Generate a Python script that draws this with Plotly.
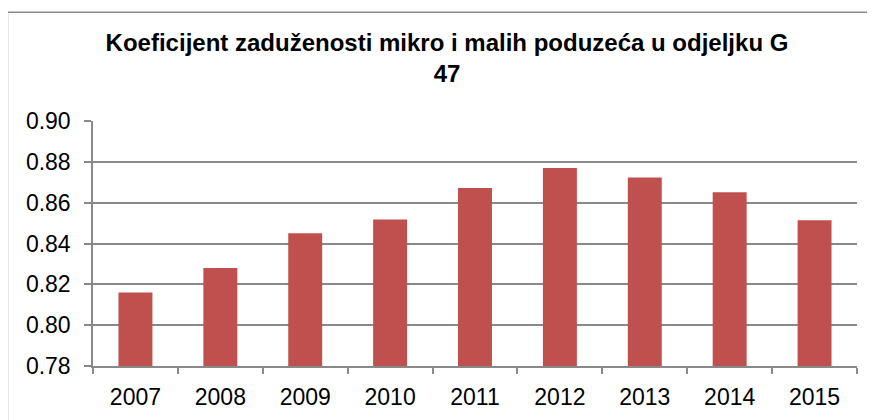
import plotly.graph_objects as go

years = ["2007", "2008", "2009", "2010", "2011", "2012", "2013", "2014", "2015"]
coef = [0.816, 0.828, 0.845, 0.8517, 0.8672, 0.877, 0.8723, 0.8651, 0.8514]
y_ticks = [0.78, 0.80, 0.82, 0.84, 0.86, 0.88, 0.90]

TITLE = "Koeficijent zaduženosti mikro i malih poduzeća u odjeljku G<br>47"
BAR = "#C0504D"
GREY = "#898989"
FONT = "Liberation Sans, Arial, sans-serif"

# the page body adds an 8px offset, margins below account for it
fig = go.Figure(
    go.Bar(
        x=years,
        y=coef,
        marker=dict(color=BAR, line=dict(width=0)),
        hovertemplate="%{x}: %{y:.3f}<extra></extra>",
    )
)

fig.update_layout(
    width=875,
    height=420,
    paper_bgcolor="white",
    plot_bgcolor="white",
    font=dict(family=FONT, color="black", size=23),
    margin=dict(l=85, r=26, t=113, b=62),
    bargap=0.6,
    showlegend=False,
    title=dict(
        text=TITLE,
        font=dict(family=FONT, size=24, color="black", weight="bold"),
        x=439 / 875, xanchor="center", xref="container",
        y=1 - 43 / 420, yanchor="top", yref="container",
    ),
    shapes=[
        dict(
            type="rect", xref="paper", yref="paper",
            x0=-0.112, x1=1.1, y0=-0.4, y1=1.4437,
            line=dict(color=GREY, width=1.5),
            layer="below",
        )
    ],
)

fig.update_xaxes(
    type="category",
    showline=True, linecolor=GREY, linewidth=1.5,
    ticks="outside", tickson="boundaries", ticklen=6, tickcolor=GREY,
    tickwidth=1.5,
    showgrid=False,
    tickfont=dict(size=23),
    ticklabelstandoff=10,
)
fig.update_yaxes(
    range=[0.78, 0.90],
    tickvals=y_ticks,
    tickformat=".2f",
    showline=True, linecolor=GREY, linewidth=1.5,
    ticks="outside", ticklen=7, tickcolor=GREY, tickwidth=1.5,
    showgrid=True, gridcolor=GREY, gridwidth=1.5,
    zeroline=False,
    tickfont=dict(size=23),
    ticklabelstandoff=9,
)

fig.write_html("out.html")
